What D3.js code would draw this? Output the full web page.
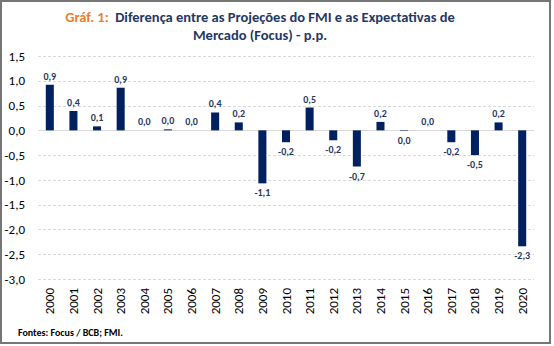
<!DOCTYPE html>
<html>
<head>
<meta charset="utf-8">
<script src="https://cdn.jsdelivr.net/npm/d3@7"></script>
<style>
  body { margin: 0; background: #fff; }
  svg { display: block; font-family: Carlito, Lato, "Open Sans", sans-serif; }
</style>
</head>
<body>
<svg id="chart" width="554" height="346"></svg>
<script>
// anos e diferenca (p.p.)
var years = ['2000','2001','2002','2003','2004','2005','2006','2007','2008','2009','2010',
             '2011','2012','2013','2014','2015','2016','2017','2018','2019','2020']
var diffs = [0.92, 0.39, 0.08, 0.86, 0.0, 0.02, 0.0, 0.36, 0.16, -1.07, -0.24,
             0.46, -0.2, -0.73, 0.17, -0.01, 0.0, -0.24, -0.5, 0.16, -2.34]
var yTicks = [1.5, 1.0, 0.5, 0.0, -0.5, -1.0, -1.5, -2.0, -2.5, -3.0]

var navy = '#002060'
var ptBR = d3.formatLocale({ decimal: ',', thousands: '.', grouping: [3], currency: ['R$', ''], minus: '-' })
var fmt = ptBR.format('.1f')

var svg = d3.select('#chart')

// moldura
svg.append('rect')
    .attr('x', 1).attr('y', 1)
    .attr('width', 549).attr('height', 342)
    .attr('fill', 'none')
    .attr('stroke', '#767676')
    .attr('stroke-width', 2)

// titulo
var title = svg.append('text')
    .attr('x', 260).attr('y', 22)
    .attr('text-anchor', 'middle')
    .attr('font-size', 14.5).attr('font-weight', 'bold')
title.append('tspan').attr('fill', '#ED7D31').text('Gráf. 1:\u00a0\u00a0')
title.append('tspan').attr('fill', '#1F3864').text('Diferença entre as Projeções do FMI e as Expectativas de')
svg.append('text')
    .attr('x', 260).attr('y', 40)
    .attr('text-anchor', 'middle')
    .attr('font-size', 14.5).attr('font-weight', 'bold')
    .attr('fill', '#1F3864')
    .text('Mercado (Focus) - p.p.')

var x = d3.scaleBand().domain(years).range([38, 534]).paddingInner(0.66).paddingOuter(0.33)
var y = d3.scaleLinear().domain([-3, 1.5]).range([279, 56])

// grade
svg.append('g').selectAll('line')
    .data(yTicks)
    .join('line')
    .attr('x1', 38).attr('x2', 534)
    .attr('y1', function(d) { return Math.round(y(d)) + 0.5 })
    .attr('y2', function(d) { return Math.round(y(d)) + 0.5 })
    .attr('stroke', '#d9d9d9')
    .attr('stroke-width', 1)
    .attr('stroke-dasharray', function(d) { return d === 0 ? null : '3,2' })

// eixo y
var yAxis = svg.append('g')
    .attr('transform', 'translate(25,0)')
    .call(d3.axisLeft(y).tickValues(yTicks).tickFormat(fmt).tickSize(0).tickPadding(0))
yAxis.select('.domain').remove()
yAxis.selectAll('text')
    .attr('font-size', 13).attr('fill', '#000')
    .attr('font-family', 'Carlito, Lato, "Open Sans", sans-serif')

// barras
svg.append('g').selectAll('rect')
    .data(diffs)
    .join('rect')
    .attr('x', function(d, i) { return x(years[i]) })
    .attr('width', x.bandwidth())
    .attr('y', function(d) { return y(Math.max(0, d)) })
    .attr('height', function(d) { return Math.abs(y(d) - y(0)) })
    .attr('fill', navy)

// rotulos
svg.append('g').selectAll('text')
    .data(diffs)
    .join('text')
    .attr('x', function(d, i) { return x(years[i]) + x.bandwidth() / 2 })
    .attr('y', function(d) { return d < 0 ? y(d) + 13 : y(d) - 5 })
    .attr('text-anchor', 'middle')
    .attr('font-size', 10).attr('font-weight', 'bold')
    .attr('fill', '#1F3864')
    .text(function(d) { return fmt(d) })

// eixo x (anos rotacionados)
svg.append('g').selectAll('text')
    .data(years)
    .join('text')
    .attr('transform', function(d) { return 'translate(' + (x(d) + x.bandwidth() / 2 + 4.5) + ',288) rotate(-90)' })
    .attr('text-anchor', 'end')
    .attr('font-size', 13).attr('fill', '#000')
    .text(function(d) { return d })

// fonte
svg.append('text')
    .attr('x', 18).attr('y', 336)
    .attr('font-size', 10).attr('font-weight', 'bold')
    .attr('fill', '#000')
    .text('Fontes: Focus / BCB; FMI.')
</script>
</body>
</html>
